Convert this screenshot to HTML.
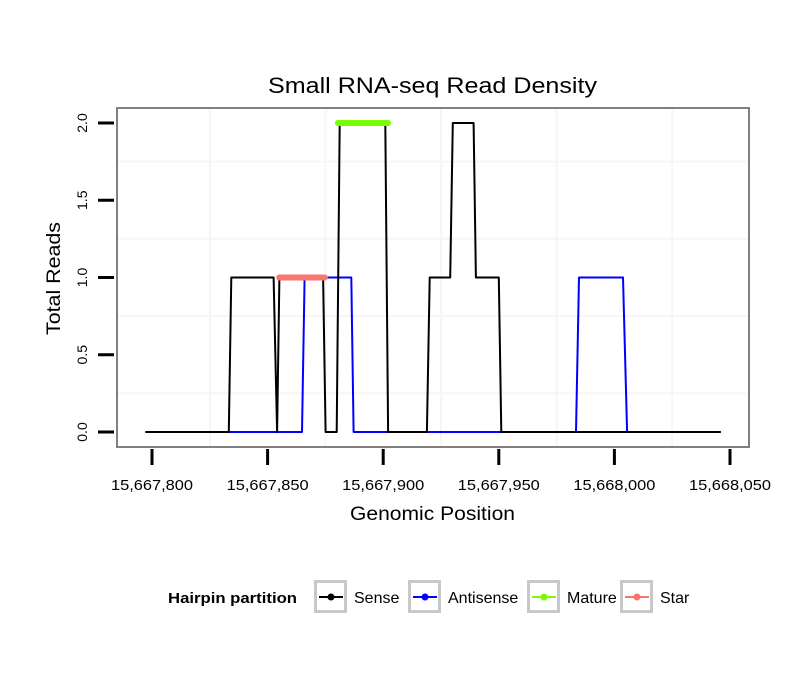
<!DOCTYPE html>
<html><head><meta charset="utf-8"><style>
body{margin:0;background:#fff;}
svg text{font-family:"Liberation Sans",Arial,sans-serif;}
</style></head><body>
<svg id="chart" width="810" height="690">
<rect width="810" height="690" fill="#fff"/>
<text x="268" y="93" font-size="22" textLength="329" lengthAdjust="spacingAndGlyphs">Small RNA-seq Read Density</text>
<g id="grid"></g>
<g id="series"></g>
<rect x="117" y="108" width="632" height="339" fill="none" stroke="#808080" stroke-width="2"/>
<g id="axes"></g>
<text x="350" y="520" font-size="19" textLength="165" lengthAdjust="spacingAndGlyphs">Genomic Position</text>
<text transform="translate(60,335) rotate(-90)" font-size="19" textLength="113" lengthAdjust="spacingAndGlyphs">Total Reads</text>
<g id="legend">
<text x="168" y="603" font-size="15" font-weight="bold" textLength="129" lengthAdjust="spacingAndGlyphs">Hairpin partition</text>
</g>
</svg>
<script>
const xTicks=[15667800,15667850,15667900,15667950,15668000,15668050];
const xTickLabels=["15,667,800","15,667,850","15,667,900","15,667,950","15,668,000","15,668,050"];
const yTicks=[0,0.5,1,1.5,2];
const yTickLabels=["0.0","0.5","1.0","1.5","2.0"];
const sensePos=[15667797.5,15667833.2,15667834.3,15667852.6,15667854.1,15667855.1,15667874,15667875.1,15667879.9,15667881.2,15667900.9,15667902.1,15667918.9,15667920.1,15667929,15667930.1,15667939.1,15667940.1,15667950,15667951.1,15668045.7];
const senseVal=[0,0,1,1,0,1,1,0,0,2,2,0,0,1,1,2,2,1,1,0,0];
const antiPos=[15667797.5,15667864.9,15667866,15667886.2,15667887.2,15667983.4,15667984.7,15668003.7,15668005.5,15668045.7];
const antiVal=[0,0,1,1,0,0,1,1,0,0];
const maturePos=[15667880.4,15667902.1];
const matureVal=[2,2];
const starPos=[15667855,15667874.8];
const starVal=[1,1];
const NS="http://www.w3.org/2000/svg";
const X=v=>152+(v-15667800)*2.312;
const Y=v=>432-v*154.5;
function mk(tag,at,parent){const e=document.createElementNS(NS,tag);for(const k in at)e.setAttribute(k,at[k]);document.getElementById(parent).appendChild(e);return e;}
for(let v=15667775;v<=15668075;v+=50){const x=X(v);if(x<118||x>748)continue;
const g=mk('line',{x1:x,x2:x,y1:109,y2:446,stroke:'#f6f6f6','stroke-width':2},'grid');

}
for(let v=-0.25;v<=2.25;v+=0.5){const y=Y(v);if(y<109||y>446)continue;
const g=mk('line',{x1:118,x2:748,y1:y,y2:y,stroke:'#f6f6f6','stroke-width':2},'grid');

}
function series(pos,val,color,w,name){
const d=pos.map((p,i)=>(i?'L':'M')+X(p).toFixed(1)+' '+Y(val[i]).toFixed(1)).join(' ');
const p=mk('path',{d:d,fill:'none',stroke:color,'stroke-width':w,'stroke-linecap':'round','stroke-linejoin':'round'},'series');

}
series(antiPos,antiVal,'#0000ff',2,'antisense-line');
series(sensePos,senseVal,'#000000',2,'sense-line');
series(starPos,starVal,'#f8766d',6,'star-line');
series(maturePos,matureVal,'#7cfc00',6,'mature-line');
xTicks.forEach((v,i)=>{const x=X(v);
const t=mk('line',{x1:x,x2:x,y1:449,y2:465,stroke:'#000','stroke-width':3},'axes');


const l=mk('text',{x:x,y:490,'font-size':15,'text-anchor':'middle',textLength:82,lengthAdjust:'spacingAndGlyphs'},'axes');l.textContent=xTickLabels[i];

});
yTicks.forEach((v,i)=>{const y=Y(v);
const t=mk('line',{x1:98,x2:114,y1:y,y2:y,stroke:'#000','stroke-width':3},'axes');


const l=mk('text',{transform:`translate(87,${y}) rotate(-90)`,'font-size':14,'text-anchor':'middle'},'axes');l.textContent=yTickLabels[i];

});
const legItems=[['Sense','#000',314],['Antisense','#0000ff',408],['Mature','#7cfc00',527],['Star','#f8766d',620]];
legItems.forEach(it=>{const x=it[2];
const b=mk('rect',{x:x+1.5,y:581.5,width:30,height:30,fill:'#fff',stroke:'#c8c8c8','stroke-width':3},'legend');


const ln=mk('line',{x1:x+5,x2:x+29,y1:597,y2:597,stroke:it[1],'stroke-width':2},'legend');


const c=mk('circle',{cx:x+17,cy:597,r:3.5,fill:it[1]},'legend');


const t=mk('text',{x:x+40,y:603,'font-size':16},'legend');t.textContent=it[0];

});
</script>
</body></html>
